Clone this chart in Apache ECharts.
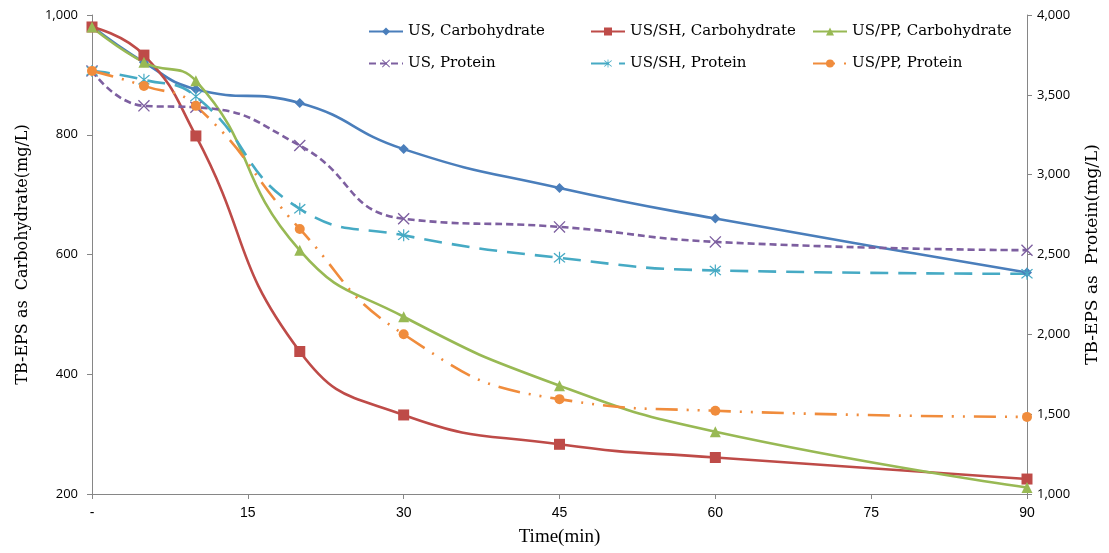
<!DOCTYPE html>
<html>
<head>
<meta charset="utf-8">
<script src="https://cdn.jsdelivr.net/npm/echarts@6/dist/echarts.min.js"></script>
<style>
	html, body { margin: 0; padding: 0; background: #fff; }
	#chart { width: 1109px; height: 553px; }
</style>
</head>
<body>
<div id="chart"></div>
<script>
var times = [0, 5, 10, 20, 30, 45, 60, 90];
var usCarb = [981, 921, 876, 853, 776, 711, 660, 570];
var shCarb = [980, 933, 798, 438, 332, 283, 261, 225];
var ppCarb = [980, 921, 890, 607, 496, 381, 304, 211];
var usProt = [3650, 3431, 3422, 3183, 2724, 2673, 2579, 2527];
var shProt = [3650, 3594, 3490, 2786, 2620, 2479, 2400, 2379];
var ppProt = [3650, 3556, 3431, 2660, 2000, 1594, 1521, 1483];
var seriesNames = ['US, Carbohydrate', 'US/SH, Carbohydrate', 'US/PP, Carbohydrate',
	'US, Protein', 'US/SH, Protein', 'US/PP, Protein'];

var serif = '"DejaVu Serif", "Liberation Serif", serif';
var crossPath = 'path://M-5,-4.2 L-4.2,-5 L5,4.2 L4.2,5 Z M-4.2,5 L-5,4.2 L4.2,-5 L5,-4.2 Z';
var starPath = 'path://M-5,-4.2 L-4.2,-5 L5,4.2 L4.2,5 Z M-4.2,5 L-5,4.2 L4.2,-5 L5,-4.2 Z M-0.5,-6 L0.5,-6 L0.5,6 L-0.5,6 Z';

function pairs(values) {
	return times.map(function (t, i) { return [t, values[i]]; });
}

function makeSeries(name, values, axis, color, symbol, size, dash) {
	return {
		name: name,
		type: 'line',
		yAxisIndex: axis,
		data: pairs(values),
		smooth: 0.5,
		symbol: symbol,
		symbolSize: size,
		color: color,
		lineStyle: { color: color, width: 2.6, type: dash },
		itemStyle: { color: color }
	};
}

function legendColumn(left, names) {
	return {
		data: names,
		orient: 'vertical',
		left: left,
		top: 24,
		padding: 0,
		itemWidth: 34,
		itemHeight: 10,
		itemGap: 17,
		textStyle: { fontFamily: serif, fontSize: 15, color: '#000' }
	};
}

var axisLine = { show: true, lineStyle: { color: '#868686', width: 1 } };

echarts.init(document.querySelector('#chart')).setOption({
	animation: false,
	grid: { left: 92, right: 81, top: 15, bottom: 59 },
	legend: [
		legendColumn(368, [seriesNames[0], seriesNames[3]]),
		legendColumn(590, [seriesNames[1], seriesNames[4]]),
		legendColumn(812, [seriesNames[2], seriesNames[5]])
	],
	xAxis: {
		type: 'value',
		min: 0,
		max: 90,
		interval: 15,
		name: 'Time(min)',
		nameLocation: 'middle',
		nameGap: 34,
		nameTextStyle: { fontFamily: '"Liberation Serif", serif', fontSize: 19, color: '#000' },
		axisLine: axisLine,
		axisTick: { show: true, length: 5, lineStyle: { color: '#868686' } },
		splitLine: { show: false },
		axisLabel: {
			margin: 12,
			fontFamily: '"Liberation Sans Narrow", "Liberation Sans", sans-serif',
			fontSize: 14,
			color: '#000',
			formatter: function (v) { return v === 0 ? '-' : v; }
		}
	},
	yAxis: [{
		type: 'value',
		min: 200,
		max: 1000,
		interval: 200,
		name: 'TB-EPS as  Carbohydrate(mg/L)',
		nameLocation: 'middle',
		nameRotate: 90,
		nameGap: 61,
		nameTextStyle: { fontFamily: serif, fontSize: 16, color: '#000' },
		axisLine: axisLine,
		axisTick: { show: true, length: 5, lineStyle: { color: '#868686' } },
		splitLine: { show: false },
		axisLabel: {
			margin: 14,
			fontFamily: '"Open Sans", sans-serif',
			fontSize: 13,
			color: '#000',
			formatter: function (v) { return v.toLocaleString('en-US'); }
		}
	}, {
		type: 'value',
		min: 1000,
		max: 4000,
		interval: 500,
		position: 'right',
		name: 'TB-EPS as  Protein(mg/L)',
		nameLocation: 'middle',
		nameRotate: 90,
		nameGap: 57,
		nameTextStyle: { fontFamily: serif, fontSize: 17, color: '#000' },
		axisLine: axisLine,
		axisTick: { show: true, length: 5, lineStyle: { color: '#868686' } },
		splitLine: { show: false },
		axisLabel: {
			margin: 10,
			fontFamily: '"Open Sans", sans-serif',
			fontSize: 13,
			color: '#000',
			formatter: function (v) { return v.toLocaleString('en-US'); }
		}
	}],
	series: [
		makeSeries(seriesNames[0], usCarb, 0, '#4a7ebb', 'diamond', 10, 'solid'),
		makeSeries(seriesNames[1], shCarb, 0, '#be4b48', 'rect', 11, 'solid'),
		makeSeries(seriesNames[2], ppCarb, 0, '#98b954', 'triangle', 11, 'solid'),
		makeSeries(seriesNames[3], usProt, 1, '#7d5fa0', crossPath, 12, [7, 4]),
		makeSeries(seriesNames[4], shProt, 1, '#46aac4', starPath, 12, [18, 10]),
		makeSeries(seriesNames[5], ppProt, 1, '#f08c3c', 'circle', 10, [22, 9, 2, 9, 2, 9])
	]
});
</script>
</body>
</html>
